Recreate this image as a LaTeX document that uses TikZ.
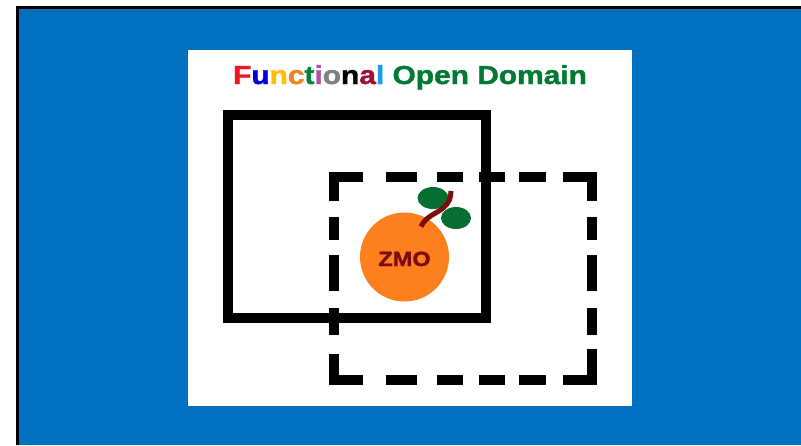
\documentclass[tikz,border=0pt]{standalone}
\usepackage{xcolor}
\usepackage{fontspec}
\setmainfont[FakeStretch=1.15, BoldFeatures={FakeBold=1.5}]{Liberation Sans}
\usepackage{tikz}
\definecolor{slideblue}{RGB}{0,112,192}
\definecolor{leafgreen}{RGB}{6,110,50}
\definecolor{titlegreen}{RGB}{0,122,51}
\definecolor{zmoorange}{RGB}{253,127,30}
\definecolor{stemred}{RGB}{122,12,12}

\begin{document}
\begin{tikzpicture}[
        x = 1pt,
        y = -1pt,
        line join = miter
    ]
    \tikzstyle{frameline} = [draw=black, line width=3pt];
    \tikzstyle{boxline} = [draw=black, line width=10pt];
    \tikzstyle{leaf} = [fill=leafgreen];
    \tikzstyle{label} = [inner sep=0pt, anchor=base, font=\bfseries];
    \useasboundingbox (0,0) rectangle (801,445);
    \fill [slideblue] (17.5,7.5) rectangle (801,445);
    \draw [frameline] (801,7.5) -- (17.5,7.5) -- (17.5,445);
    \fill [white] (188,50) rectangle (632,406);
    \draw [boxline] (228,115) rectangle (486,318);
    % corners of the dashed box
    \draw [boxline] (334,201) -- (334,177) -- (363,177);
    \draw [boxline] (563,177) -- (592,177) -- (592,201);
    \draw [boxline] (334,354) -- (334,380) -- (363,380);
    \draw [boxline] (563,380) -- (592,380) -- (592,349);
    \foreach \xa/\xb in {386/417, 437/463, 479/505, 519/546} {
        \draw [boxline] (\xa,177) -- (\xb,177);
        \draw [boxline] (\xa,380) -- (\xb,380);
    }
    \foreach \ya/\yb in {217/240, 255/291, 308/335} {
        \draw [boxline] (334,\ya) -- (334,\yb);
        \draw [boxline] (592,\ya) -- (592,\yb);
    }
    \fill [zmoorange] (404.5,257) circle [radius=44.5pt];
    \fill [leaf] (433,198) ellipse [x radius=15.5pt, y radius=11pt];
    \fill [leaf] (456,218) ellipse [x radius=15pt, y radius=11pt];
    \draw [stemred, line width=5pt] (421,226.5) .. controls (426,216) and (436,214) .. (443,208) .. controls (449,203) and (451,198) .. (451,191);
    \node [label, font=\fontsize{26}{26}\selectfont\bfseries] (title) at (410,84) {%
        \textcolor[RGB]{245,20,30}{F}\textcolor[RGB]{0,0,224}{u}\textcolor[RGB]{255,192,0}{n}\textcolor[RGB]{245,130,32}{c}\textcolor[RGB]{0,128,58}{t}\textcolor[RGB]{176,80,160}{i}\textcolor[RGB]{128,128,128}{o}\textcolor{black}{n}\textcolor[RGB]{160,16,48}{a}\textcolor[RGB]{30,155,232}{l} \textcolor{titlegreen}{Open Domain}};
    \node [label, font=\fontsize{20.5}{20.5}\selectfont\bfseries, text=stemred] (zmo) at (404.5,266) {ZMO};
\end{tikzpicture}
\end{document}
